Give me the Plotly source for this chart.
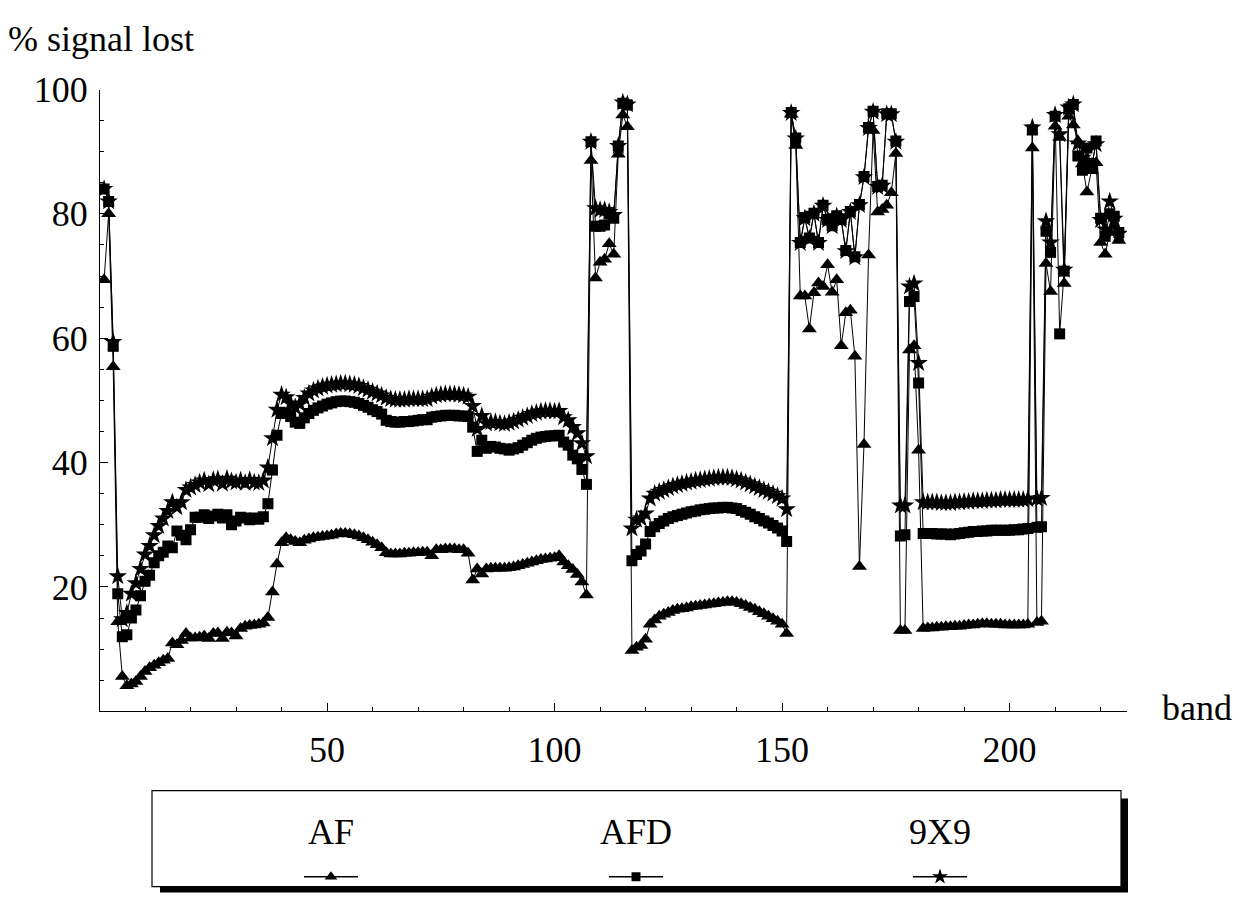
import plotly.graph_objects as go

# ---------------- data ----------------
bands = list(range(1, 225))

af = [69.4, 80.0, 55.4, 14.4, 5.6, 4.1, 4.4, 4.8, 5.6, 6.4,
      7.0, 7.4, 7.8, 8.2, 8.5, 11.0, 10.7, 11.4, 12.5, 11.8,
      11.8, 11.9, 12.1, 11.7, 12.5, 12.6, 11.7, 12.7, 12.6, 12.1,
      13.3, 13.7, 13.8, 13.9, 14.0, 14.2, 15.1, 19.2, 23.7, 27.1,
      27.9, 27.6, 27.3, 27.1, 27.5, 27.7, 27.9, 28.0, 28.1, 28.2,
      28.3, 28.5, 28.6, 28.6, 28.5, 28.4, 28.2, 27.9, 27.6, 27.2,
      26.8, 26.3, 25.5, 25.3, 25.3, 25.3, 25.4, 25.4, 25.5, 25.5,
      25.6, 25.6, 25.0, 26.0, 26.0, 26.1, 26.1, 26.1, 26.0, 26.0,
      25.4, 21.1, 22.9, 22.1, 22.9, 23.0, 23.0, 23.0, 23.0, 23.1,
      23.2, 23.4, 23.6, 23.8, 24.0, 24.2, 24.4, 24.5, 24.6, 24.7,
      25.0, 24.0, 23.4, 22.8, 22.0, 20.8, 18.7,
      88.6, 69.7, 72.2, 72.7, 75.2, 73.5, 89.6, 95.9, 94.0,
      9.8, 10.3, 10.6, 11.6, 14.0, 14.7, 15.3, 15.6, 15.9, 16.2,
      16.4, 16.5, 16.6, 16.8, 16.9, 17.0, 17.1, 17.2, 17.3, 17.4,
      17.5, 17.6, 17.6, 17.5, 17.3, 17.0, 16.7, 16.4, 16.0, 15.7,
      15.3, 14.9, 14.5, 14.0, 12.5,
      96.0, 91.0, 66.8, 66.8, 61.5, 67.3, 68.9, 68.3, 71.8, 67.4,
      69.4, 58.8, 64.1, 64.5, 57.1, 23.3, 42.9, 73.4, 93.4, 80.3,
      80.7, 81.4, 83.4, 89.7, 13.0, 13.0,
      58.1, 58.8, 42.0,
      13.3, 13.4, 13.4, 13.5, 13.5, 13.6, 13.6, 13.7, 13.7, 13.8,
      13.9, 13.9, 14.0, 14.1, 14.1, 14.0, 14.0, 14.0, 13.9, 13.9,
      13.9, 13.9, 13.9, 14.0,
      90.6, 14.3, 14.5,
      72.0, 67.5, 94.1, 92.3, 68.8, 95.7, 94.3, 91.7, 88.0, 83.5,
      87.0, 88.2, 75.4, 73.5, 77.0, 78.0, 75.7]

afd = [84.0, 82.0, 58.7, 18.9, 12.0, 12.3, 15.0, 16.3, 18.6, 20.9,
       21.9, 23.9, 25.0, 25.6, 26.6, 26.3, 29.0, 28.3, 27.6, 29.2,
       31.2, 31.2, 31.6, 31.0, 31.4, 31.7, 31.1, 31.6, 30.0, 30.6,
       31.2, 31.1, 30.8, 31.1, 30.9, 31.3, 33.4, 38.8, 44.4, 47.9,
       48.0, 47.4, 46.5, 46.3, 47.2, 47.9, 48.4, 48.8, 49.1, 49.4,
       49.6, 49.8, 49.9, 49.9, 49.8, 49.7, 49.5, 49.2, 48.9, 48.5,
       48.2, 47.8, 46.8, 46.6, 46.5, 46.5, 46.6, 46.6, 46.7, 46.8,
       46.9, 46.9, 47.3, 47.4, 47.5, 47.6, 47.6, 47.6, 47.5, 47.5,
       47.4, 45.7, 41.8, 43.6, 42.3, 42.6, 42.5, 42.3, 42.2, 42.0,
       42.2, 42.4, 42.8, 43.2, 43.6, 43.9, 44.1, 44.2, 44.3, 44.3,
       44.4, 43.3, 42.8, 41.2, 40.6, 38.9, 36.5,
       91.6, 78.0, 78.0, 78.2, 80.0, 79.3, 90.9, 97.8, 97.5,
       24.2, 25.2, 25.8, 26.9, 28.9, 29.7, 30.2, 30.6, 31.0, 31.3,
       31.5, 31.7, 31.9, 32.1, 32.2, 32.4, 32.5, 32.6, 32.7, 32.7,
       32.8, 32.8, 32.7, 32.6, 32.3, 32.0, 31.7, 31.3, 31.0, 30.6,
       30.3, 29.9, 29.5, 29.0, 27.3,
       96.3, 92.2, 75.4, 79.4, 76.1, 80.1, 75.4, 81.4, 79.1, 78.1,
       79.7, 79.1, 74.1, 80.4, 73.1, 81.5, 86.0, 93.9, 96.5, 84.4,
       84.6, 96.1, 96.1, 91.7, 28.2, 28.4,
       65.9, 66.7, 52.8,
       28.6, 28.6, 28.6, 28.5, 28.5, 28.5, 28.4, 28.5, 28.6, 28.7,
       28.8, 28.9, 28.9, 29.0, 29.0, 29.1, 29.1, 29.1, 29.1, 29.1,
       29.2, 29.2, 29.3, 29.4,
       93.5, 29.6, 29.7,
       77.2, 73.8, 95.7, 60.7, 70.8, 96.9, 97.6, 89.3, 87.0, 90.6,
       87.3, 91.7, 79.3, 76.4, 80.0, 79.6, 77.0]

x9 = [84.0, 82.0, 59.4, 21.7, 14.8, 15.8, 18.9, 20.6, 22.9, 25.2,
      26.6, 28.3, 29.8, 31.0, 32.2, 33.6, 32.8, 33.6, 35.6, 36.0,
      36.4, 36.8, 37.1, 36.5, 37.2, 37.3, 36.6, 37.4, 37.0, 36.8,
      37.1, 36.7, 37.2, 36.8, 36.7, 37.1, 39.2, 43.9, 48.5, 50.9,
      50.5, 49.5, 48.9, 49.4, 50.4, 51.1, 51.6, 51.9, 52.2, 52.4,
      52.5, 52.6, 52.7, 52.7, 52.6, 52.5, 52.3, 52.0, 51.7, 51.4,
      51.1, 50.8, 50.4, 50.2, 50.1, 50.1, 50.1, 50.2, 50.2, 50.2,
      50.2, 50.2, 50.6, 50.8, 50.9, 51.0, 51.0, 51.0, 50.9, 50.8,
      50.6, 49.1, 45.4, 47.5, 46.3, 46.5, 46.5, 46.3, 46.2, 46.4,
      46.6, 46.9, 47.2, 47.5, 47.8, 48.0, 48.2, 48.3, 48.3, 48.2,
      48.3, 47.3, 46.8, 45.7, 44.7, 43.1, 41.0,
      91.6, 80.9, 80.6, 80.6, 80.3, 79.8, 90.9, 97.9, 97.6,
      29.4, 30.8, 31.0, 31.8, 34.2, 35.0, 35.3, 35.6, 35.9, 36.2,
      36.4, 36.6, 36.8, 36.9, 37.1, 37.2, 37.3, 37.4, 37.5, 37.6,
      37.6, 37.6, 37.5, 37.3, 37.1, 36.8, 36.5, 36.2, 35.9, 35.6,
      35.3, 35.0, 34.6, 34.2, 32.5,
      96.2, 92.1, 75.3, 79.3, 76.0, 80.0, 75.3, 81.3, 79.0, 78.0,
      79.6, 79.0, 74.0, 80.3, 73.0, 81.4, 85.9, 93.8, 96.4, 84.3,
      84.5, 96.0, 96.0, 91.6, 33.1, 33.1,
      68.3, 68.8, 56.0,
      33.6, 33.6, 33.6, 33.6, 33.5, 33.5, 33.5, 33.6, 33.6, 33.7,
      33.7, 33.8, 33.8, 33.8, 33.9, 33.9, 33.9, 34.0, 34.0, 34.0,
      34.0, 34.0, 34.0, 34.1,
      93.9, 34.2, 34.3,
      78.8, 75.4, 95.9, 92.8, 71.0, 97.1, 97.6, 91.3, 89.0, 88.5,
      87.6, 91.2, 79.0, 77.5, 82.0, 79.2, 76.8]

series_names = ["AF", "AFD", "9X9"]
x_ticks = [50, 100, 150, 200]
y_ticks = [20, 40, 60, 80, 100]

# ---------------- figure ----------------
W, H = 1244, 915
FONT = "Liberation Serif"
FS = 36

def px_x(p):
    return p / W

def px_y(p):
    return 1 - p / H

fig = go.Figure()

symbols = {"AF": ("triangle-up", 13), "AFD": ("square", 11), "9X9": ("star", 14)}
data = {"AF": af, "AFD": afd, "9X9": x9}

for name in ["9X9", "AF", "AFD"]:
    sym, sz = symbols[name]
    fig.add_trace(go.Scatter(
        x=bands, y=data[name], mode="lines+markers", name=name,
        line=dict(color="black", width=1),
        marker=dict(symbol=sym, size=sz, color="black", line=dict(width=0)),
        showlegend=False, xaxis="x", yaxis="y"))

# legend samples drawn in an auxiliary axis
leg_centers = [331, 636, 940]
for name, cx in zip(series_names, leg_centers):
    sym, sz = symbols[name]
    fig.add_trace(go.Scatter(
        x=[cx - 27, cx, cx + 27], y=[0.5, 0.5, 0.5], mode="lines",
        line=dict(color="black", width=1.5), showlegend=False,
        xaxis="x2", yaxis="y2", hoverinfo="skip"))
    fig.add_trace(go.Scatter(
        x=[cx], y=[0.5], mode="markers",
        marker=dict(symbol=sym, size=sz - 2, color="black", line=dict(width=0)),
        showlegend=False, xaxis="x2", yaxis="y2", hoverinfo="skip"))

plot_l, plot_r, plot_t, plot_b = 100, 1127, 72, 707

fig.update_layout(
    width=W, height=H, margin=dict(l=0, r=0, t=0, b=0),
    paper_bgcolor="white", plot_bgcolor="white",
    font=dict(family=FONT, size=FS, color="black"),
    xaxis=dict(domain=[px_x(plot_l), px_x(plot_r)], range=[0.1, 225.8],
               showline=True, linecolor="black", linewidth=1.3, showgrid=False,
               zeroline=False, tickmode="array", tickvals=x_ticks,
               ticks="inside", ticklen=8, tickwidth=1.2, tickcolor="black",
               ticklabelstandoff=6,
               minor=dict(dtick=10, tick0=0, ticks="inside", ticklen=4,
                          tickwidth=1, tickcolor="black", showgrid=False),
               tickfont=dict(family=FONT, size=FS)),
    yaxis=dict(domain=[px_y(plot_b), px_y(plot_t)], range=[0, 100],
               showline=True, linecolor="black", linewidth=1.3, showgrid=False,
               zeroline=False, tickmode="array", tickvals=y_ticks,
               ticks="inside", ticklen=8, tickwidth=1.2, tickcolor="black",
               ticklabelstandoff=4,
               minor=dict(dtick=5, tick0=0, ticks="inside", ticklen=4,
                          tickwidth=1, tickcolor="black", showgrid=False),
               tickfont=dict(family=FONT, size=FS)),
    xaxis2=dict(domain=[px_x(152), px_x(1121)], range=[152, 1121],
                visible=False, fixedrange=True),
    yaxis2=dict(domain=[px_y(896), px_y(856)], range=[0, 1],
                visible=False, fixedrange=True, anchor="x2"),
)

# legend box with drop shadow
fig.add_shape(type="rect", xref="paper", yref="paper",
              x0=px_x(160), x1=px_x(1128), y0=px_y(892), y1=px_y(796),
              fillcolor="black", line=dict(width=0), layer="below")
fig.add_shape(type="rect", xref="paper", yref="paper",
              x0=px_x(152), x1=px_x(1121), y0=px_y(886), y1=px_y(788),
              fillcolor="white", line=dict(color="black", width=1.2), layer="below")

for name, cx in zip(series_names, leg_centers):
    fig.add_annotation(text=name, xref="paper", yref="paper",
                       x=px_x(cx), y=px_y(830), xanchor="center", yanchor="middle",
                       showarrow=False, font=dict(family=FONT, size=FS))

fig.add_annotation(text="% signal lost", xref="paper", yref="paper",
                   x=px_x(6), y=px_y(20), xanchor="left", yanchor="middle",
                   showarrow=False, font=dict(family=FONT, size=FS))
fig.add_annotation(text="band", xref="paper", yref="paper",
                   x=px_x(1197), y=px_y(704), xanchor="center", yanchor="middle",
                   showarrow=False, font=dict(family=FONT, size=FS))

fig.write_html("out.html", config={"displayModeBar": False},
               post_script="document.body.style.margin='0';document.body.style.overflow='hidden';")
